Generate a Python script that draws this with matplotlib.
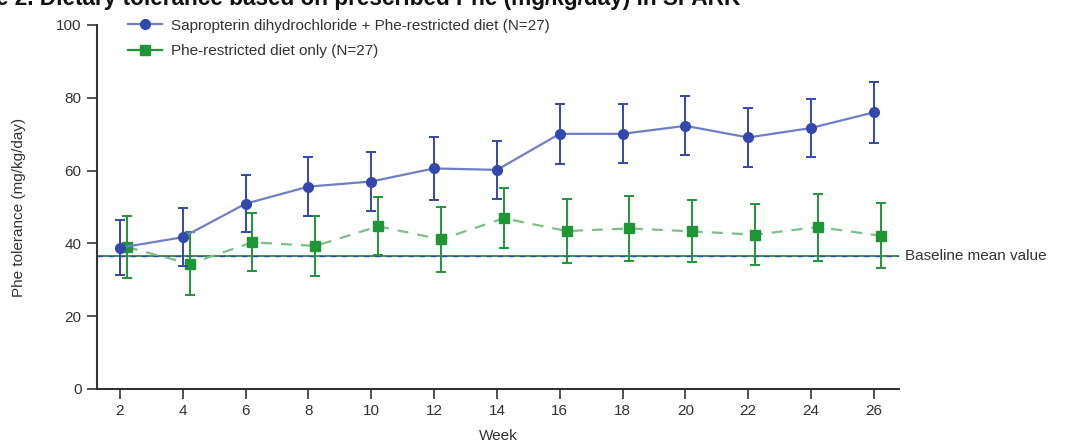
import numpy as np
import matplotlib.pyplot as plt
from matplotlib.lines import Line2D

plt.rcParams['font.family'] = ['Liberation Sans', 'DejaVu Sans']

weeks = [2, 4, 6, 8, 10, 12, 14, 16, 18, 20, 22, 24, 26]

# sapropterin + diet
sap_mean = [38.8, 41.7, 50.9, 55.6, 57.0, 60.6, 60.2, 70.1, 70.1, 72.3, 69.1, 71.7, 76.0]
sap_err = [7.6, 8.0, 7.8, 8.0, 8.1, 8.6, 8.0, 8.3, 8.1, 8.1, 8.1, 8.0, 8.4]

# diet only
diet_mean = [39.0, 34.4, 40.3, 39.3, 44.7, 41.1, 46.9, 43.4, 44.1, 43.3, 42.4, 44.5, 42.1]
diet_err = [8.4, 8.6, 8.0, 8.2, 8.0, 8.9, 8.2, 8.9, 9.0, 8.5, 8.4, 9.2, 8.9]

baseline = 36.5

blue = '#3347ad'
blue_line = '#6f7fc6'
green = '#1e9636'
green_line = '#7dbf88'
dark = '#333333'

fig = plt.figure(figsize=(10.65, 4.45), dpi=100)
ax = fig.add_axes((97/1065, 1-389/445, 802/1065, 364/445))

x = np.array(weeks, dtype=float)

ax.axhline(baseline, color=green, lw=1.3, zorder=1)
ax.axhline(baseline, color=blue, lw=1.0, ls=(0, (4, 4)), zorder=1)

ax.errorbar(x, sap_mean, yerr=sap_err, color=blue_line, lw=1.6,
            marker='o', ms=7, mfc=blue, mec=blue, ecolor=blue, elinewidth=1.4,
            capsize=3.5, capthick=1.4, zorder=3)
ax.errorbar(x + 0.22, diet_mean, yerr=diet_err, color=green_line, lw=1.6, ls=(0, (5, 4)),
            marker='s', ms=7, mfc=green, mec=green, ecolor=green, elinewidth=1.4,
            capsize=3.5, capthick=1.4, zorder=2)

ax.set_xlim(1.27, 26.8)
ax.set_ylim(0, 100)
ax.set_xticks(weeks)
ax.set_yticks([0, 20, 40, 60, 80, 100])

for s in ['top', 'right']:
    ax.spines[s].set_visible(False)
for s in ['left', 'bottom']:
    ax.spines[s].set_color(dark)
    ax.spines[s].set_linewidth(1.5)
ax.tick_params(direction='out', length=7, width=1.2, color=dark,
               labelsize=11, labelcolor=dark, pad=4)

ax.set_xlabel('Week', fontsize=11, color=dark, labelpad=8)
ax.set_ylabel('Phe tolerance (mg/kg/day)', fontsize=11, color=dark, labelpad=22)

ax.text(1.007, baseline, 'Baseline mean value', transform=ax.get_yaxis_transform(),
        va='center', ha='left', fontsize=11, color=dark, clip_on=False)

handles = [
    Line2D([], [], color=blue_line, lw=1.6, marker='o', ms=7, mfc=blue, mec=blue),
    Line2D([], [], color=green, lw=1.6, marker='s', ms=7, mfc=green, mec=green),
]
labels = ['Sapropterin dihydrochloride + Phe-restricted diet (N=27)',
          'Phe-restricted diet only (N=27)']
leg = ax.legend(handles, labels, loc='upper left', bbox_to_anchor=(0.022, 1.055),
                frameon=False, fontsize=11, handlelength=2.2, labelspacing=0.75,
                handletextpad=0.6)
for t in leg.get_texts():
    t.set_color(dark)

fig.text(-0.004, 1 - 5/445, 'e 2. Dietary tolerance based on prescribed Phe (mg/kg/day) in SPARK',
         fontsize=16.3, fontweight='bold', ha='left', va='baseline', color='#111111')

fig.savefig('out.png', dpi=100)
